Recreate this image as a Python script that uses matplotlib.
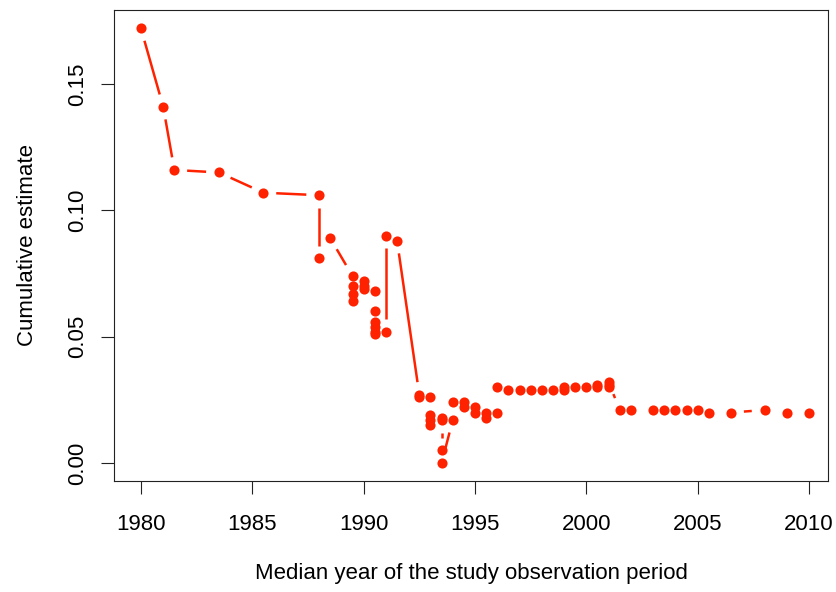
import numpy as np
import matplotlib
matplotlib.use("Agg")
import matplotlib.pyplot as plt
from matplotlib.collections import LineCollection

plt.rcParams['font.family'] = ['Liberation Sans', 'DejaVu Sans']

# median year of study observation period vs cumulative estimate
year = [1980, 1981, 1981.5, 1983.5, 1985.5, 1988, 1988, 1988.5,
        1989.5, 1989.5, 1989.5, 1989.5, 1990, 1990, 1990,
        1990.5, 1990.5, 1990.5, 1990.5, 1990.5, 1990.5,
        1991, 1991, 1991.5, 1992.5, 1992.5,
        1993, 1993, 1993, 1993, 1993.5, 1993.5, 1993.5, 1993.5,
        1994, 1994, 1994.5, 1994.5, 1995, 1995, 1995.5, 1995.5,
        1996, 1996, 1996.5, 1997, 1997.5, 1998, 1998.5, 1999, 1999,
        1999.5, 2000, 2000.5, 2000.5, 2001, 2001, 2001,
        2001.5, 2002, 2003, 2003.5, 2004, 2004.5, 2005, 2005.5,
        2006.5, 2008, 2009, 2010]
est = [0.172, 0.141, 0.116, 0.115, 0.107, 0.106, 0.081, 0.089,
       0.074, 0.070, 0.067, 0.064, 0.072, 0.070, 0.069,
       0.068, 0.060, 0.056, 0.054, 0.052, 0.051,
       0.052, 0.090, 0.088, 0.027, 0.026,
       0.026, 0.019, 0.017, 0.015, 0.018, 0.017, 0.005, 0.000,
       0.017, 0.024, 0.024, 0.022, 0.022, 0.020, 0.020, 0.018,
       0.020, 0.030, 0.029, 0.029, 0.029, 0.029, 0.029, 0.029, 0.030,
       0.030, 0.030, 0.030, 0.031, 0.030, 0.031, 0.032,
       0.021, 0.021, 0.021, 0.021, 0.021, 0.021, 0.021, 0.020,
       0.020, 0.021, 0.020, 0.020]

xticks = [1980, 1985, 1990, 1995, 2000, 2005, 2010]
yticks = [0.00, 0.05, 0.10, 0.15]
ytick_labels = ["0.00", "0.05", "0.10", "0.15"]

red = '#ff2200'
fs = 16

fig = plt.figure(figsize=(8.36, 5.92), dpi=100)
ax = fig.add_axes([114/836, 1 - 481/592, (828 - 114)/836, (481 - 10)/592])
ax.set_xlim(1978.79, 2010.85)
ax.set_ylim(-0.0071, 0.1793)

# R type="b": segments between points, with a gap round each point
pts = ax.transData.transform(np.column_stack([year, est]))
gap = 12.8
segs = []
for p, q in zip(pts[:-1], pts[1:]):
    d = q - p
    L = np.hypot(d[0], d[1])
    if L > 2 * gap:
        u = d / L
        segs.append(ax.transData.inverted().transform([p + u * gap, q - u * gap]))
ax.add_collection(LineCollection(segs, colors=red, linewidths=1.8))
ax.plot(year, est, 'o', color=red, ms=7.3, mec='none')

ax.set_xticks(xticks)
ax.set_xticklabels([str(t) for t in xticks], fontsize=fs)
ax.set_yticks(yticks)
ax.set_yticklabels(ytick_labels, fontsize=fs, rotation=90, va='center')
ax.tick_params(axis='both', length=9.4, width=0.8, color='#222222')
ax.tick_params(axis='x', pad=14)
ax.tick_params(axis='y', pad=9)
for s in ax.spines.values():
    s.set_linewidth(0.8)
    s.set_color('#222222')

ax.set_xlabel("Median year of the study observation period", fontsize=fs)
ax.set_ylabel("Cumulative estimate", fontsize=fs)
ax.xaxis.set_label_coords(0.5, -(563 - 481) / 471)
ax.yaxis.set_label_coords((38 - 114) / 714, 0.5)

fig.savefig("out.png", dpi=100)
